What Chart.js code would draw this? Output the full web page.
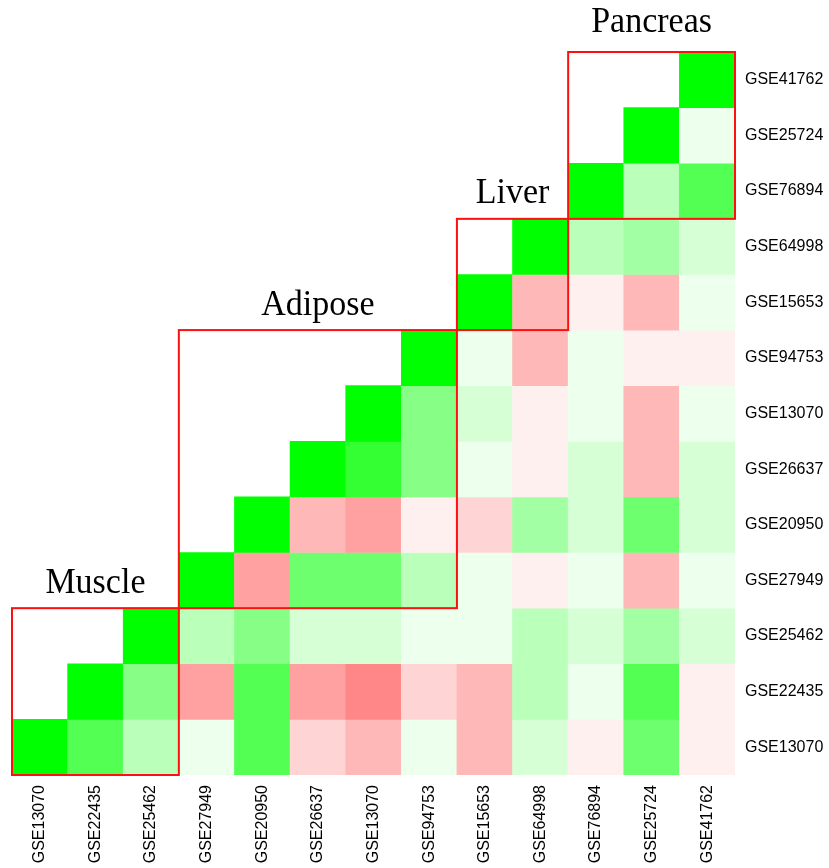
<!DOCTYPE html>
<html>
<head>
<meta charset="utf-8">
<script src="https://cdn.jsdelivr.net/npm/chart.js@4/dist/chart.umd.min.js"></script>
<style>
  html, body { margin: 0; padding: 0; background: #fff; }
  #wrap { width: 829px; height: 868px; position: relative; }
</style>
</head>
<body>
<div id="wrap"><canvas id="c" width="829" height="868"></canvas></div>
<script>
// Column labels (left to right)
const colLabels = ["GSE13070","GSE22435","GSE25462","GSE27949","GSE20950","GSE26637","GSE13070","GSE94753","GSE15653","GSE64998","GSE76894","GSE25724","GSE41762"];
// Row labels (top to bottom)
const rowLabels = ["GSE41762","GSE25724","GSE76894","GSE64998","GSE15653","GSE94753","GSE13070","GSE26637","GSE20950","GSE27949","GSE25462","GSE22435","GSE13070"];
const n = null;
// Correlation values, rows top to bottom, columns left to right (null = blank)
const values = [
  [n,n,n,n,n,n,n,n,n,n,n,n,1],
  [n,n,n,n,n,n,n,n,n,n,n,1,0.07],
  [n,n,n,n,n,n,n,n,n,n,1,0.27,0.67],
  [n,n,n,n,n,n,n,n,n,1,0.27,0.36,0.16],
  [n,n,n,n,n,n,n,n,1,-0.28,-0.06,-0.28,0.07],
  [n,n,n,n,n,n,n,1,0.07,-0.28,0.07,-0.06,-0.06],
  [n,n,n,n,n,n,1,0.47,0.16,-0.06,0.07,-0.28,0.07],
  [n,n,n,n,n,1,0.8,0.47,0.07,-0.06,0.16,-0.28,0.16],
  [n,n,n,n,1,-0.28,-0.37,-0.06,-0.17,0.36,0.16,0.57,0.16],
  [n,n,n,1,-0.37,0.57,0.57,0.27,0.07,-0.06,0.07,-0.28,0.07],
  [n,n,1,0.27,0.47,0.16,0.16,0.07,0.07,0.27,0.16,0.36,0.16],
  [n,1,0.47,-0.37,0.67,-0.37,-0.47,-0.17,-0.28,0.27,0.07,0.67,-0.06],
  [1,0.67,0.27,0.07,0.67,-0.17,-0.28,0.07,-0.28,0.16,-0.06,0.57,-0.06]
];
// Tissue groups: name, first and last column index (same indices from the bottom for rows)
const groupNames = ["Muscle","Adipose","Liver","Pancreas"];
const groupStart = [0,3,8,10];
const groupEnd   = [2,7,9,12];

function colorFor(v) {
  if (v === null) return 'rgba(0,0,0,0)';
  if (v >= 0) { const c = Math.round(255 * (1 - v)); return `rgb(${c},255,${c})`; }
  const c = Math.round(255 * (1 + v)); return `rgb(255,${c},${c})`;
}

const NR = rowLabels.length;
const datasets = values.map((row, r) => {
  const k = NR - 1 - r; // index from bottom
  return {
    label: rowLabels[r],
    data: row.map(v => v === null ? null : [k, k + 1]),
    backgroundColor: row.map(colorFor),
    borderWidth: 0,
    borderSkipped: false,
    barPercentage: 1.0,
    categoryPercentage: 1.0,
    grouped: false
  };
});

const titleGap = [15, 15, 16, 20];

const boxPlugin = {
  id: 'boxes',
  afterDatasetsDraw(chart) {
    const ctx = chart.ctx;
    const xs = chart.scales.x, ys = chart.scales.y;
    const cw = (xs.right - xs.left) / colLabels.length;
    for (let g = 0; g < groupNames.length; g++) {
      const a = groupStart[g], b = groupEnd[g];
      const x0 = xs.getPixelForValue(a) - cw / 2;
      const x1 = xs.getPixelForValue(b) + cw / 2;
      const yBottom = ys.getPixelForValue(a);
      const yTop = ys.getPixelForValue(b + 1);
      ctx.save();
      ctx.strokeStyle = '#ff1010';
      ctx.lineWidth = 2;
      ctx.strokeRect(x0, yTop, x1 - x0, yBottom - yTop);
      ctx.restore();
      ctx.save();
      const sy = 1.06;
      ctx.translate((x0 + x1) / 2, yTop - titleGap[g]);
      ctx.scale(1, sy);
      ctx.fillStyle = '#000';
      ctx.font = '34px "Liberation Serif", "Times New Roman", serif';
      ctx.textAlign = 'center';
      ctx.textBaseline = 'alphabetic';
      ctx.fillText(groupNames[g], 0, 0);
      ctx.restore();
    }
  }
};

new Chart(document.getElementById('c'), {
  type: 'bar',
  data: { labels: colLabels, datasets },
  options: {
    responsive: false,
    animation: false,
    events: [],
    layout: { padding: { top: 52, left: 12, right: 0, bottom: 0 } },
    plugins: { legend: { display: false }, tooltip: { enabled: false } },
    scales: {
      x: {
        type: 'category',
        offset: true,
        grid: { display: false, drawTicks: false },
        border: { display: false },
        ticks: {
          autoSkip: false, minRotation: 90, maxRotation: 90, padding: 10,
          color: '#000', font: { family: '"Liberation Sans", Arial, sans-serif', size: 16 }
        },
        afterFit(s) { s.height = 93; }
      },
      y: {
        type: 'linear', position: 'right', min: 0, max: NR,
        grid: { display: false, drawTicks: false },
        border: { display: false },
        afterBuildTicks(s) { s.ticks = rowLabels.map((_, i) => ({ value: i + 0.5 })); },
        ticks: {
          padding: 10, color: '#000',
          font: { family: '"Liberation Sans", Arial, sans-serif', size: 16 },
          callback: (v) => rowLabels[NR - 1 - Math.floor(v)]
        },
        afterFit(s) { s.width = 94; }
      }
    }
  },
  plugins: [boxPlugin]
});
</script>
</body>
</html>
